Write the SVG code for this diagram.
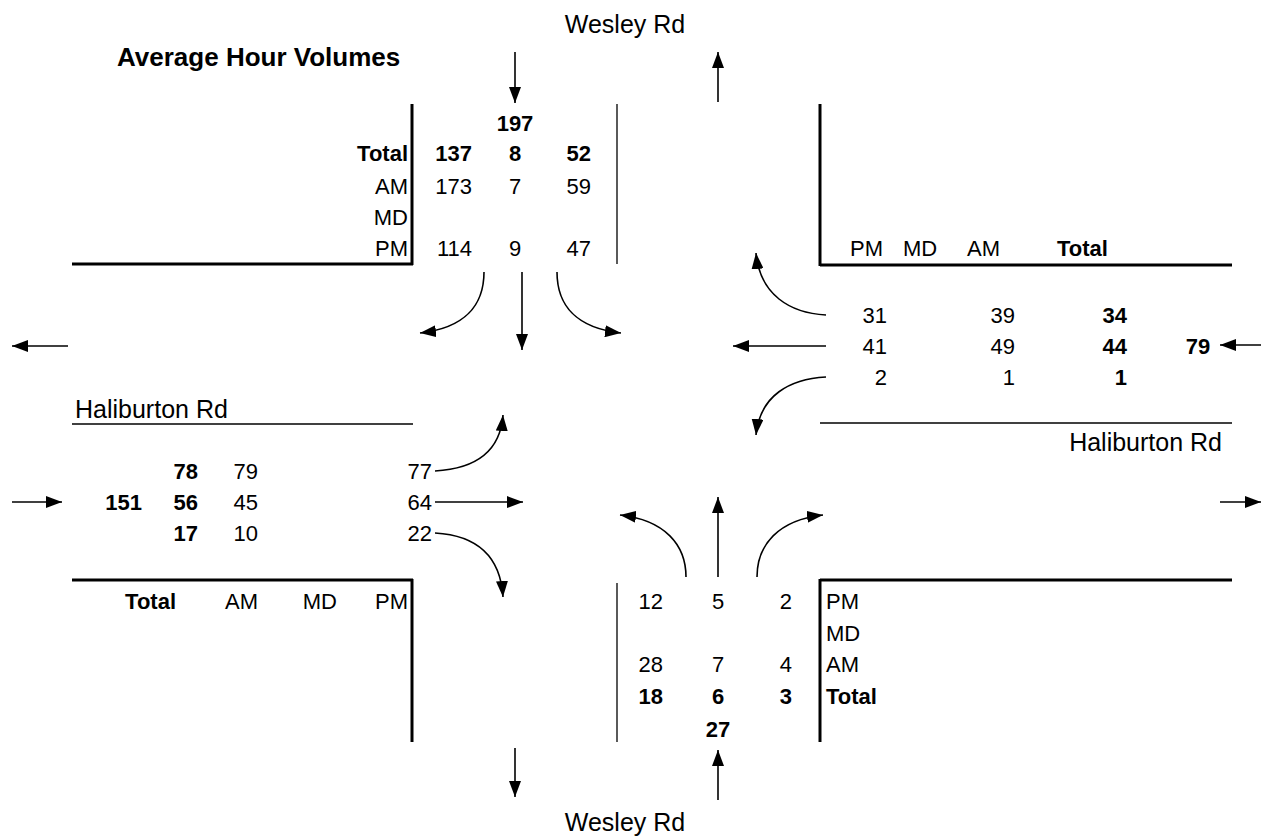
<svg xmlns="http://www.w3.org/2000/svg" width="1261" height="837" viewBox="0 0 1261 837">
<style>
text{font-family:"Liberation Sans",Arial,sans-serif;fill:#000;}
.t{font-size:22px;}
.b{font-weight:bold;}
.road{font-size:25px;}
.title{font-size:26px;font-weight:bold;}
.e{text-anchor:end;}
.m{text-anchor:middle;}
.thick{stroke:#000;stroke-width:3;fill:none;}
.thin{stroke:#000;stroke-width:1.3;fill:none;}
.arr{stroke:#000;stroke-width:1.6;fill:none;marker-end:url(#ah);}
</style>
<defs>
<marker id="ah" viewBox="0 0 16 12" refX="16" refY="6" markerWidth="16" markerHeight="12" markerUnits="userSpaceOnUse" orient="auto">
<path d="M0,0 L16,6 L0,12 z" fill="#000"/>
</marker>
</defs>
<rect width="1261" height="837" fill="#fff"/>

<text class="title" x="117" y="66">Average Hour Volumes</text>
<text class="road m" x="625" y="33">Wesley Rd</text>
<text class="road m" x="625" y="831">Wesley Rd</text>

<g id="north-approach">
<line class="thick" x1="412" y1="104" x2="412" y2="265"/>
<line class="thick" x1="72" y1="264" x2="413" y2="264"/>
<line class="thin" x1="617" y1="104" x2="617" y2="264"/>
<text class="t b m" x="515" y="131">197</text>
<text class="t b e" x="408" y="161">Total</text>
<text class="t e" x="408" y="194">AM</text>
<text class="t e" x="408" y="225">MD</text>
<text class="t e" x="408" y="256">PM</text>
<text class="t b e" x="472" y="161">137</text>
<text class="t b m" x="515" y="161">8</text>
<text class="t b e" x="591" y="161">52</text>
<text class="t e" x="472" y="194">173</text>
<text class="t m" x="515" y="194">7</text>
<text class="t e" x="591" y="194">59</text>
<text class="t e" x="472" y="256">114</text>
<text class="t m" x="515" y="256">9</text>
<text class="t e" x="591" y="256">47</text>
</g>

<g id="east-approach">
<line class="thick" x1="820" y1="104" x2="820" y2="266"/>
<line class="thick" x1="820" y1="265" x2="1232" y2="265"/>
<line class="thin" x1="820" y1="423" x2="1232" y2="423"/>
<text class="t" x="850" y="256">PM</text>
<text class="t" x="903" y="256">MD</text>
<text class="t" x="967" y="256">AM</text>
<text class="t b" x="1057" y="256">Total</text>
<text class="t e" x="887" y="323">31</text>
<text class="t e" x="1015" y="323">39</text>
<text class="t b e" x="1127" y="323">34</text>
<text class="t e" x="887" y="354">41</text>
<text class="t e" x="1015" y="354">49</text>
<text class="t b e" x="1127" y="354">44</text>
<text class="t b m" x="1198" y="354">79</text>
<text class="t e" x="887" y="385">2</text>
<text class="t e" x="1015" y="385">1</text>
<text class="t b e" x="1127" y="385">1</text>
<text class="road e" x="1222" y="451">Haliburton Rd</text>
</g>

<g id="west-approach">
<text class="road" x="75" y="418">Haliburton Rd</text>
<line class="thin" x1="72" y1="424" x2="413" y2="424"/>
<line class="thick" x1="72" y1="580" x2="413" y2="580"/>
<line class="thick" x1="412" y1="579" x2="412" y2="742"/>
<text class="t b e" x="198" y="479">78</text>
<text class="t e" x="258" y="479">79</text>
<text class="t e" x="432" y="479">77</text>
<text class="t b e" x="142" y="510">151</text>
<text class="t b e" x="198" y="510">56</text>
<text class="t e" x="258" y="510">45</text>
<text class="t e" x="432" y="510">64</text>
<text class="t b e" x="198" y="541">17</text>
<text class="t e" x="258" y="541">10</text>
<text class="t e" x="432" y="541">22</text>
<text class="t b e" x="176" y="609">Total</text>
<text class="t e" x="258" y="609">AM</text>
<text class="t e" x="337" y="609">MD</text>
<text class="t e" x="408" y="609">PM</text>
</g>

<g id="south-approach">
<line class="thin" x1="617" y1="583" x2="617" y2="742"/>
<line class="thick" x1="820" y1="579" x2="820" y2="742"/>
<line class="thick" x1="820" y1="580" x2="1232" y2="580"/>
<text class="t e" x="663" y="609">12</text>
<text class="t m" x="718" y="609">5</text>
<text class="t e" x="792" y="609">2</text>
<text class="t e" x="663" y="672">28</text>
<text class="t m" x="718" y="672">7</text>
<text class="t e" x="792" y="672">4</text>
<text class="t b e" x="663" y="704">18</text>
<text class="t b m" x="718" y="704">6</text>
<text class="t b e" x="792" y="704">3</text>
<text class="t b m" x="718" y="737">27</text>
<text class="t" x="826" y="609">PM</text>
<text class="t" x="826" y="641">MD</text>
<text class="t" x="826" y="672">AM</text>
<text class="t b" x="826" y="704">Total</text>
</g>

<g id="connectors">
<path class="arr" d="M515,52 L515,103"/>
<path class="arr" d="M718,102 L718,52"/>
<path class="arr" d="M484,272 C484,305 465,328 420,333"/>
<path class="arr" d="M522,272 L522,350"/>
<path class="arr" d="M557,272 C557,305 576,328 621,333"/>
<path class="arr" d="M68,346 L12,346"/>
<path class="arr" d="M1261,345 L1220,345"/>
<path class="arr" d="M826,315 C790,313 760,295 756,253"/>
<path class="arr" d="M826,346 L733,346"/>
<path class="arr" d="M826,377 C790,379 760,395 756,435"/>
<path class="arr" d="M12,502 L62,502"/>
<path class="arr" d="M435,471 C470,469 500,455 503,415"/>
<path class="arr" d="M435,502 L523,502"/>
<path class="arr" d="M435,533 C470,535 500,550 503,597"/>
<path class="arr" d="M1220,502 L1261,502"/>
<path class="arr" d="M686,577 C686,545 665,520 620,515"/>
<path class="arr" d="M718,577 L718,497"/>
<path class="arr" d="M757,577 C757,545 778,520 823,515"/>
<path class="arr" d="M718,800 L718,750"/>
<path class="arr" d="M515,748 L515,797"/>
</g>
</svg>
